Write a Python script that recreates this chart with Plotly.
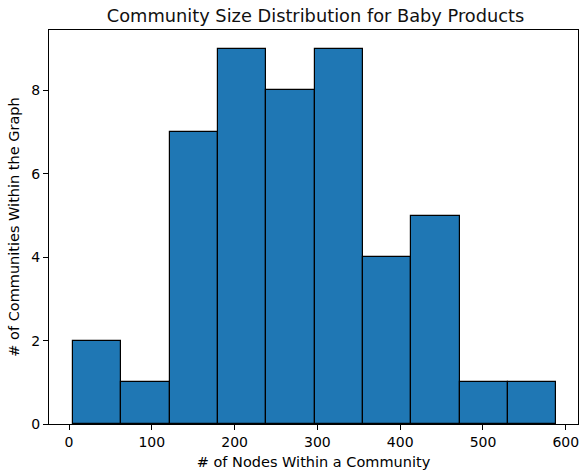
import numpy as np
import plotly.graph_objects as go

# Histogram of community sizes: 10 equal-width bins
size_min = 5.0
size_max = 588.5
counts = [2, 1, 7, 9, 8, 9, 4, 5, 1, 1]

edges = np.linspace(size_min, size_max, len(counts) + 1)
centers = (edges[:-1] + edges[1:]) / 2
width = edges[1] - edges[0]

fig = go.Figure(
    go.Bar(
        x=centers,
        y=counts,
        width=width,
        marker=dict(color="#1f77b4", line=dict(color="black", width=1.2)),
    )
)

span = size_max - size_min
fig.update_layout(
    width=579,
    height=471,
    margin=dict(l=49, r=1, t=30, b=47),
    plot_bgcolor="white",
    paper_bgcolor="white",
    font=dict(family="DejaVu Sans", size=14, color="black"),
    title=dict(
        text="Community Size Distribution for Baby Products",
        x=0.545, xanchor="center", y=0.966, yanchor="middle",
        font=dict(size=17.8, color="#111"),
    ),
    showlegend=False,
    bargap=0,
)
fig.update_xaxes(
    range=[size_min - 0.05 * span, size_max + 0.045 * span],
    tickvals=[0, 100, 200, 300, 400, 500, 600],
    ticks="outside", ticklen=5, tickcolor="black",
    ticklabeloverflow="allow",
    showline=True, linecolor="black", linewidth=1, mirror=True,
    showgrid=False, zeroline=False,
    title=dict(text="# of Nodes Within a Community", standoff=8,
               font=dict(size=14.5)),
)
fig.update_yaxes(
    range=[0, 9.45],
    tickvals=[0, 2, 4, 6, 8],
    ticks="outside", ticklen=5, tickcolor="black",
    showline=True, linecolor="black", linewidth=1, mirror=True,
    showgrid=False, zeroline=False,
    title=dict(text="# of Communities Within the Graph", standoff=8,
               font=dict(size=14.5)),
)

fig.write_html("out.html")
